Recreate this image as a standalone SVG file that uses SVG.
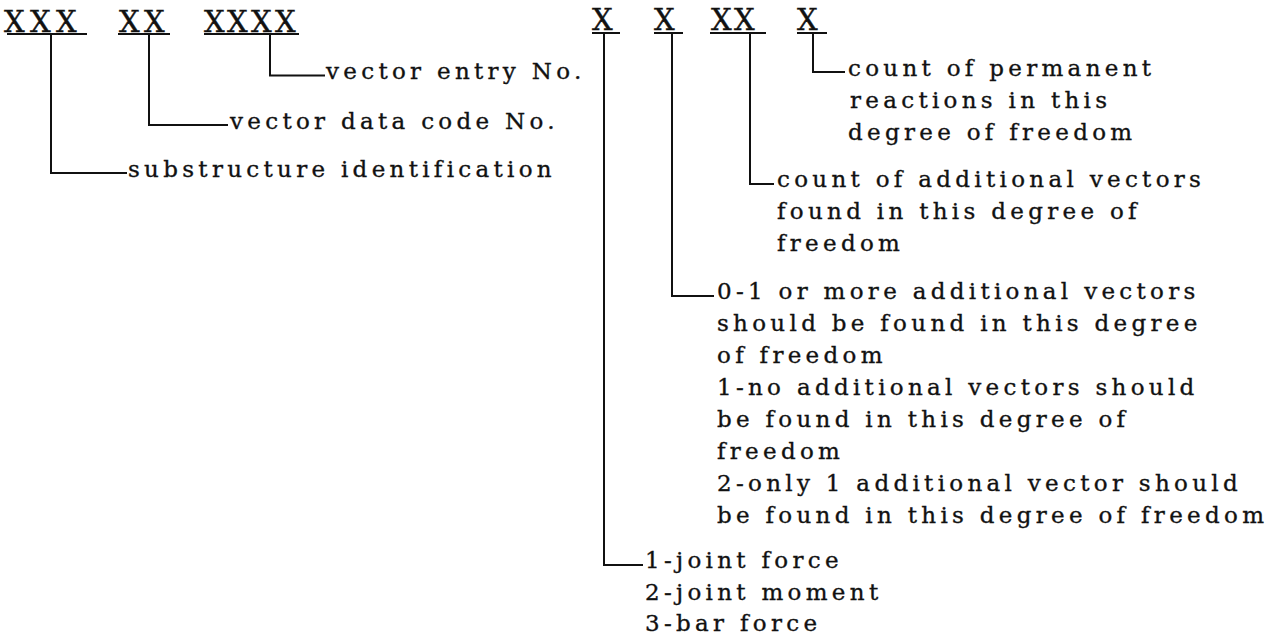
<svg xmlns="http://www.w3.org/2000/svg" width="1276" height="634" viewBox="0 0 1276 634">
<style>
.code{font-family:"DejaVu Serif","Liberation Serif",serif;font-size:29px;fill:#111;stroke:#111;stroke-width:0.4}
.t{font-family:"DejaVu Serif","Liberation Serif",serif;font-size:23px;letter-spacing:4.3px;fill:#111;stroke:#111;stroke-width:0.35}
.ul{stroke:#111;stroke-width:2;fill:none}
.conn{stroke:#111;stroke-width:2;fill:none}
</style>
<rect width="1276" height="634" fill="#fff"/>
<g id="codes">
<g id="f-sub"><text class="code" x="4 30 56" y="31.5">XXX</text><line class="ul" x1="7" y1="34" x2="87" y2="34"/></g>
<g id="f-vdc"><text class="code" x="119 144" y="31.5">XX</text><line class="ul" x1="118" y1="34" x2="170" y2="34"/></g>
<g id="f-ent"><text class="code" x="204 227 251 275" y="31.5">XXXX</text><line class="ul" x1="204" y1="34" x2="299" y2="34"/></g>
<g id="f-type"><text class="code" x="592" y="30">X</text><line class="ul" x1="592" y1="33" x2="620" y2="33"/></g>
<g id="f-add"><text class="code" x="654" y="30">X</text><line class="ul" x1="654" y1="33" x2="683" y2="33"/></g>
<g id="f-cnt"><text class="code" x="711 734" y="30">XX</text><line class="ul" x1="710" y1="33" x2="766" y2="33"/></g>
<g id="f-perm"><text class="code" x="797" y="30">X</text><line class="ul" x1="797" y1="33" x2="827" y2="33"/></g>
</g>
<g id="connectors">
<path class="conn" d="M51 34V173H127"/>
<path class="conn" d="M149 34V125H228"/>
<path class="conn" d="M270 34V75.5H325"/>
<path class="conn" d="M604 33V565H643"/>
<path class="conn" d="M672 33V296H714"/>
<path class="conn" d="M750 33V184H774"/>
<path class="conn" d="M813 33V72H845"/>
</g>
<g id="n-entry"><text class="t" x="326" y="79">vector entry No.</text></g>
<g id="n-vdc"><text class="t" x="230" y="129">vector data code No.</text></g>
<g id="n-sub"><text class="t" x="128" y="177">substructure identification</text></g>
<g id="n-perm">
<text class="t" x="848" y="76">count of permanent</text>
<text class="t" x="850" y="108">reactions in this</text>
<text class="t" x="848" y="140">degree of freedom</text>
</g>
<g id="n-cnt">
<text class="t" x="777" y="187">count of additional vectors</text>
<text class="t" x="777" y="219">found in this degree of</text>
<text class="t" x="777" y="251">freedom</text>
</g>
<g id="n-add">
<text class="t" x="717" y="299">0-1 or more additional vectors</text>
<text class="t" x="717" y="331">should be found in this degree</text>
<text class="t" x="717" y="363">of freedom</text>
<text class="t" x="717" y="395">1-no additional vectors should</text>
<text class="t" x="717" y="427">be found in this degree of</text>
<text class="t" x="717" y="459">freedom</text>
<text class="t" x="717" y="491">2-only 1 additional vector should</text>
<text class="t" x="717" y="523">be found in this degree of freedom</text>
</g>
<g id="n-type">
<text class="t" x="645" y="568">1-joint force</text>
<text class="t" x="645" y="600">2-joint moment</text>
<text class="t" x="645" y="631">3-bar force</text>
</g>
</svg>
